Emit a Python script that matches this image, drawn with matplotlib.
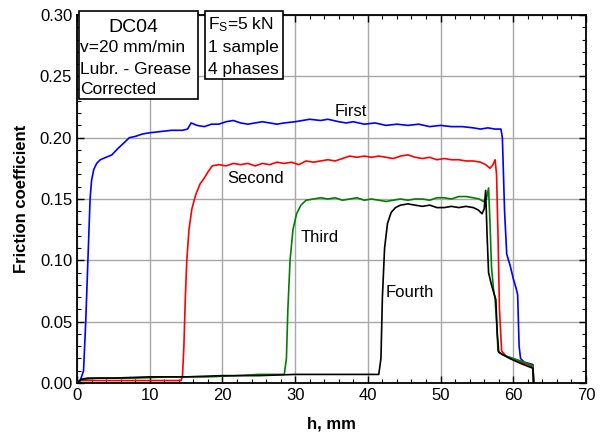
import numpy as np
import matplotlib
matplotlib.use('Agg')
import matplotlib.pyplot as plt
import matplotlib.ticker as ticker
from matplotlib.patches import Rectangle

plt.rcParams['font.family'] = ['Liberation Sans', 'DejaVu Sans']
plt.rcParams['mathtext.default'] = 'regular'

# phase 1 - First (blue)
h_first = [0, 0.5, 0.9, 1.2, 1.5, 1.8, 2.0, 2.3, 2.7, 3.2, 4, 4.8, 5.6, 6.5, 7.2, 8, 9, 10, 11.5, 13, 14.5,
           15.2, 15.7, 16.5, 17.5, 18.5, 19.5, 20.5, 21.5, 22.5, 23.5, 24.5, 25.5, 26.5, 27.5, 28.5, 30,
           31, 32, 33.5, 34.5, 36, 37, 38, 39.5, 41, 42.5, 44, 45.5, 47, 48.5, 50, 51.5, 53, 54.5, 55.5,
           56.5, 57.5, 58.3, 58.5, 58.8, 59.1, 59.6, 60, 60.4, 60.6, 60.8, 61, 61.5, 62.7, 62.8]
f_first = [0, 0.003, 0.01, 0.05, 0.10, 0.15, 0.165, 0.174, 0.179, 0.182, 0.184, 0.186, 0.191, 0.196, 0.200,
           0.201, 0.203, 0.204, 0.205, 0.206, 0.206, 0.207, 0.212, 0.210, 0.209, 0.211, 0.211, 0.213, 0.214,
           0.212, 0.211, 0.212, 0.213, 0.212, 0.211, 0.212, 0.213, 0.214, 0.215, 0.214, 0.215, 0.213, 0.212,
           0.213, 0.211, 0.212, 0.210, 0.211, 0.210, 0.211, 0.209, 0.210, 0.209, 0.209, 0.208, 0.207, 0.208,
           0.207, 0.207, 0.200, 0.140, 0.105, 0.095, 0.085, 0.077, 0.072, 0.030, 0.020, 0.017, 0.015, 0.0]

# phase 2 - Second (red)
h_second = [0, 0.5, 5, 10, 14.3, 14.5, 14.7, 14.9, 15.1, 15.4, 15.8, 16.3, 16.9, 17.5, 18, 18.6, 19.5, 20.5,
            21.5, 22.5, 23.5, 24.5, 25.5, 26.5, 27.5, 28.5, 29.5, 30.5, 31.5, 32.5, 33.5, 34.5, 35.5, 36.5,
            37.5, 38.5, 39.5, 40.5, 41.5, 42.5, 43.5, 44.5, 45.5, 46.5, 47.5, 48.5, 49.5, 50.5, 51.5, 52.5,
            53.5, 54.5, 55.5, 56.2, 56.8, 57.2, 57.5, 57.7, 57.9, 58.1, 58.4, 59, 60.5, 62, 62.7, 62.8]
f_second = [0, 0.002, 0.002, 0.002, 0.002, 0.005, 0.03, 0.07, 0.10, 0.125, 0.142, 0.153, 0.162, 0.167, 0.172,
            0.177, 0.178, 0.177, 0.179, 0.178, 0.179, 0.177, 0.179, 0.178, 0.180, 0.179, 0.180, 0.178, 0.181,
            0.180, 0.181, 0.182, 0.181, 0.183, 0.185, 0.184, 0.185, 0.184, 0.185, 0.184, 0.183, 0.185, 0.186,
            0.184, 0.183, 0.184, 0.182, 0.183, 0.182, 0.182, 0.181, 0.181, 0.180, 0.178, 0.175, 0.178, 0.182,
            0.170, 0.120, 0.060, 0.026, 0.022, 0.018, 0.015, 0.013, 0.0]

# phase 3 - Third (green)
h_third = [0, 0.8, 3, 8, 13, 18, 22, 25, 28.5, 28.8, 29.0, 29.3, 29.7, 30.2, 30.8, 31.5, 32.5, 33.5, 34.5,
           35.5, 36.5, 37.5, 38.5, 39.5, 40.5, 41.5, 42.5, 43.5, 44.5, 45.5, 46.5, 47.5, 48.5, 49.5, 50.5,
           51.5, 52.5, 53.5, 54.5, 55.3, 55.9, 56.3, 56.6, 56.8, 57.0, 57.3, 57.5, 57.7, 57.9, 58.5, 60,
           61.5, 62.7, 62.8]
f_third = [0, 0.003, 0.004, 0.004, 0.005, 0.005, 0.006, 0.007, 0.007, 0.02, 0.06, 0.10, 0.125, 0.138, 0.145,
           0.149, 0.150, 0.151, 0.150, 0.151, 0.149, 0.150, 0.151, 0.149, 0.150, 0.149, 0.148, 0.149, 0.150,
           0.149, 0.150, 0.150, 0.149, 0.151, 0.151, 0.150, 0.152, 0.152, 0.151, 0.150, 0.148, 0.150, 0.159,
           0.130, 0.095, 0.075, 0.068, 0.050, 0.026, 0.023, 0.020, 0.017, 0.014, 0.0]

# phase 4 - Fourth (black)
h_fourth = [0, 0.6, 1.5, 5, 10, 15, 20, 25, 30, 35, 41.5, 41.8, 42.0, 42.3, 42.7, 43.2, 43.8, 44.5, 45.5,
            46.5, 47.5, 48.5, 49.5, 50.5, 51.5, 52.5, 53.5, 54.5, 55.2, 55.7, 56.0, 56.2, 56.4, 56.6, 57.0,
            57.6, 57.8, 58.0, 59.5, 61, 62.7, 62.8]
f_fourth = [0, 0.003, 0.004, 0.004, 0.005, 0.005, 0.006, 0.006, 0.007, 0.007, 0.007, 0.02, 0.07, 0.11, 0.13,
            0.139, 0.143, 0.145, 0.146, 0.145, 0.144, 0.145, 0.143, 0.143, 0.144, 0.143, 0.144, 0.143, 0.141,
            0.138, 0.142, 0.157, 0.120, 0.090, 0.080, 0.068, 0.040, 0.025, 0.020, 0.016, 0.012, 0.0]

fig = plt.figure(figsize=(6.01, 4.37), dpi=100)
ax = fig.add_axes([77/601, 1 - 383/437, (586 - 77)/601, (383 - 15)/437])

ax.grid(True, which='major', color='#a8a8a8', lw=1)
ax.set_axisbelow(True)

ax.plot(h_first, f_first, color='#0000ff', lw=1.2)
ax.plot(h_second, f_second, color='#ff0000', lw=1.2)
ax.plot(h_third, f_third, color='#008000', lw=1.2)
ax.plot(h_fourth, f_fourth, color='black', lw=1.2)

ax.text(37.6, 0.221, 'First', fontsize=12, ha='center', va='center')
ax.text(24.6, 0.167, 'Second', fontsize=12, ha='center', va='center')
ax.text(33.4, 0.119, 'Third', fontsize=12, ha='center', va='center')
ax.text(45.8, 0.074, 'Fourth', fontsize=12, ha='center', va='center')

ax.set_xlim(0, 70)
ax.set_ylim(0, 0.30)
ax.xaxis.set_major_locator(ticker.MultipleLocator(10))
ax.xaxis.set_minor_locator(ticker.MultipleLocator(2))
ax.yaxis.set_major_locator(ticker.MultipleLocator(0.05))
ax.yaxis.set_minor_locator(ticker.MultipleLocator(0.01))
ax.yaxis.set_major_formatter(ticker.FormatStrFormatter('%.2f'))
ax.tick_params(which='both', direction='in', top=True, right=True, labelsize=12)
ax.tick_params(which='major', length=5, width=1)
ax.tick_params(which='minor', length=3, width=0.8)
for s in ax.spines.values():
    s.set_linewidth(1.3)

ax.set_xlabel('h, mm', fontsize=12, fontweight='bold', labelpad=10)
ax.set_ylabel('Friction coefficient', fontsize=12, fontweight='bold', labelpad=8)

# info boxes in pixel coords
def px(x, y):
    return x / 601, 1 - y / 437

x0, y0 = px(79, 99)
x1, y1 = px(198, 10.7)
fig.add_artist(Rectangle((x0, y0), x1 - x0, y1 - y0, transform=fig.transFigure,
                         fill=True, facecolor='white', edgecolor='black', lw=1.2, zorder=5))
x0, y0 = px(205, 79)
x1, y1 = px(283, 10.7)
fig.add_artist(Rectangle((x0, y0), x1 - x0, y1 - y0, transform=fig.transFigure,
                         fill=True, facecolor='white', edgecolor='black', lw=1.2, zorder=5))

fig.text(*px(133, 31.5), 'DC04', fontsize=14, ha='center', va='baseline', zorder=6)
fig.text(*px(80.5, 52.5), 'v=20 mm/min', fontsize=12.5, ha='left', va='baseline', zorder=6)
fig.text(*px(80.5, 74), 'Lubr. - Grease', fontsize=12.5, ha='left', va='baseline', zorder=6)
fig.text(*px(80.5, 94), 'Corrected', fontsize=12.5, ha='left', va='baseline', zorder=6)
fig.text(*px(208, 29), r'F$_S$=5 kN', fontsize=12.5, ha='left', va='baseline', zorder=6)
fig.text(*px(208, 52), '1 sample', fontsize=12.5, ha='left', va='baseline', zorder=6)
fig.text(*px(208, 73.5), '4 phases', fontsize=12.5, ha='left', va='baseline', zorder=6)

fig.savefig('out.png', dpi=100)
